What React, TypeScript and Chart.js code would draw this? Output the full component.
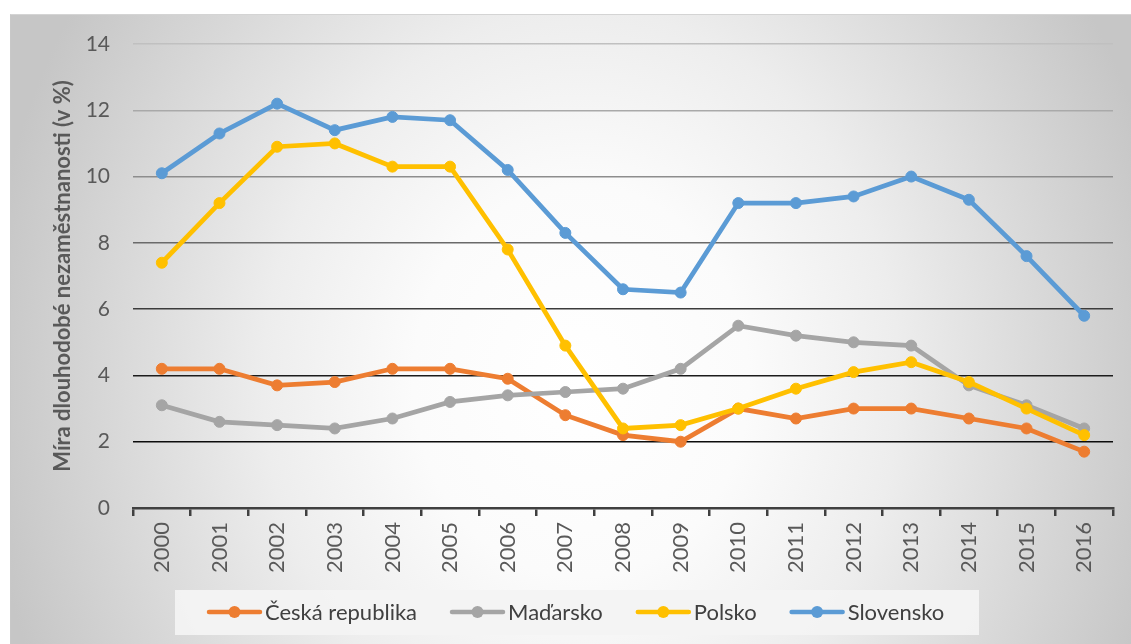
import React, { useEffect, useRef } from 'react';
import { Chart, registerables } from 'chart.js';

Chart.register(...registerables);

const years = ['2000', '2001', '2002', '2003', '2004', '2005', '2006', '2007', '2008', '2009', '2010', '2011', '2012', '2013', '2014', '2015', '2016'];
const ceskaRepublika = [4.2, 4.2, 3.7, 3.8, 4.2, 4.2, 3.9, 2.8, 2.2, 2.0, 3.0, 2.7, 3.0, 3.0, 2.7, 2.4, 1.7];
const madarsko = [3.1, 2.6, 2.5, 2.4, 2.7, 3.2, 3.4, 3.5, 3.6, 4.2, 5.5, 5.2, 5.0, 4.9, 3.7, 3.1, 2.4];
const polsko = [7.4, 9.2, 10.9, 11.0, 10.3, 10.3, 7.8, 4.9, 2.4, 2.5, 3.0, 3.6, 4.1, 4.4, 3.8, 3.0, 2.2];
const slovensko = [10.1, 11.3, 12.2, 11.4, 11.8, 11.7, 10.2, 8.3, 6.6, 6.5, 9.2, 9.2, 9.4, 10.0, 9.3, 7.6, 5.8];
const seriesNames = ['Česká republika', 'Maďarsko', 'Polsko', 'Slovensko'];
const yAxisTitle = 'Míra dlouhodobé nezaměstnanosti (v %)';
const yMin = 0;
const yMax = 14;
const yStep = 2;

const seriesColors = ['#ED7D31', '#A5A5A5', '#FFC000', '#5B9BD5'];
const FONT = 'Lato, "Open Sans", sans-serif';

function gridColor(v: number): string {
  if (v >= 14) return '#c0c0c0';
  if (v >= 12) return '#a9a9a9';
  if (v >= 10) return '#8d8d8d';
  if (v >= 8) return '#6a6a6a';
  if (v >= 6) return '#3c3c3c';
  if (v >= 4) return '#1c1c1c';
  if (v >= 2) return '#0c0c0c';
  return 'rgba(0,0,0,0)';
}

const legendPlugin = {
  id: 'customLegend',
  afterDraw(chart: any) {
    const ctx = chart.ctx as CanvasRenderingContext2D;
    ctx.save();
    ctx.fillStyle = 'rgba(243,243,243,0.95)';
    ctx.fillRect(175, 590, 804, 45);
    ctx.font = `22px ${FONT}`;
    ctx.textBaseline = 'middle';
    ctx.textAlign = 'left';
    const y = 612;
    let x = 207;
    chart.data.datasets.forEach((ds: any) => {
      const color = ds.borderColor;
      ctx.strokeStyle = color;
      ctx.lineWidth = 4.5;
      ctx.lineCap = 'round';
      ctx.beginPath();
      ctx.moveTo(x + 2, y);
      ctx.lineTo(x + 53, y);
      ctx.stroke();
      ctx.fillStyle = color;
      ctx.beginPath();
      ctx.arc(x + 27.5, y, 6, 0, Math.PI * 2);
      ctx.fill();
      ctx.fillStyle = '#404040';
      ctx.fillText(ds.label, x + 58, y + 1);
      x += 58 + ctx.measureText(ds.label).width + 33;
    });
    ctx.restore();
  },
};

export default function App() {
  const ref = useRef<HTMLCanvasElement | null>(null);

  useEffect(() => {
    if (!ref.current) return;
    const seriesData = [ceskaRepublika, madarsko, polsko, slovensko];
    const chart = new Chart(ref.current, {
      type: 'line',
      data: {
        labels: years,
        datasets: seriesData.map((d, i) => ({
          label: seriesNames[i],
          data: d,
          borderColor: seriesColors[i],
          backgroundColor: seriesColors[i],
          pointBackgroundColor: seriesColors[i],
          pointBorderColor: seriesColors[i],
          borderWidth: 4.75,
          pointRadius: 5.5,
          pointBorderWidth: 1,
          tension: 0,
          order: 4 - i,
        })),
      },
      options: {
        responsive: false,
        animation: false,
        layout: { padding: { left: 0, top: 44, right: 18, bottom: 0 } },
        plugins: {
          legend: { display: false },
          tooltip: { enabled: false },
        },
        scales: {
          x: {
            offset: true,
            afterFit: (s: any) => { s.height = 136; },
            grid: {
              display: true,
              offset: true,
              drawOnChartArea: false,
              drawTicks: true,
              tickLength: 8,
              color: '#404040',
              lineWidth: 2.5,
            },
            border: { display: true, color: '#404040', width: 2.5 },
            ticks: {
              minRotation: 90,
              maxRotation: 90,
              padding: 6,
              color: '#595959',
              font: { family: FONT, size: 22 },
            },
          },
          y: {
            min: yMin,
            max: yMax,
            afterFit: (s: any) => { s.width = 133; },
            grid: {
              drawTicks: false,
              color: (c: any) => gridColor(c.tick ? c.tick.value : 0),
              lineWidth: 1.5,
            },
            border: { display: false },
            ticks: {
              stepSize: yStep,
              padding: 23,
              color: '#595959',
              font: { family: FONT, size: 21 },
            },
            title: {
              display: true,
              text: yAxisTitle,
              color: '#595959',
              padding: { top: 50, bottom: 0 },
              font: { family: FONT, size: 22, weight: 'bold' },
            },
          },
        },
      },
      plugins: [legendPlugin],
    });
    return () => chart.destroy();
  }, []);

  return (
    <div style={{ position: 'absolute', left: 0, top: 0, width: 1131, height: 644, background: '#ffffff', overflow: 'hidden' }}>
      <div
        style={{
          position: 'absolute',
          left: 10,
          top: 14,
          width: 1121,
          height: 630,
          boxSizing: 'border-box',
          borderTop: '1px solid #d4d4d4',
          borderLeft: '1px solid #c8c8c8',
          background: 'radial-gradient(ellipse 600px 700px at 570px 366px, #ffffff 0%, #fbfbfb 28%, #ededed 53%, #d8d8d8 78%, #c6c6c6 100%)',
        }}
      />
      <canvas ref={ref} width={1131} height={644} style={{ position: 'absolute', left: 0, top: 0, width: 1131, height: 644 }} />
    </div>
  );
}
